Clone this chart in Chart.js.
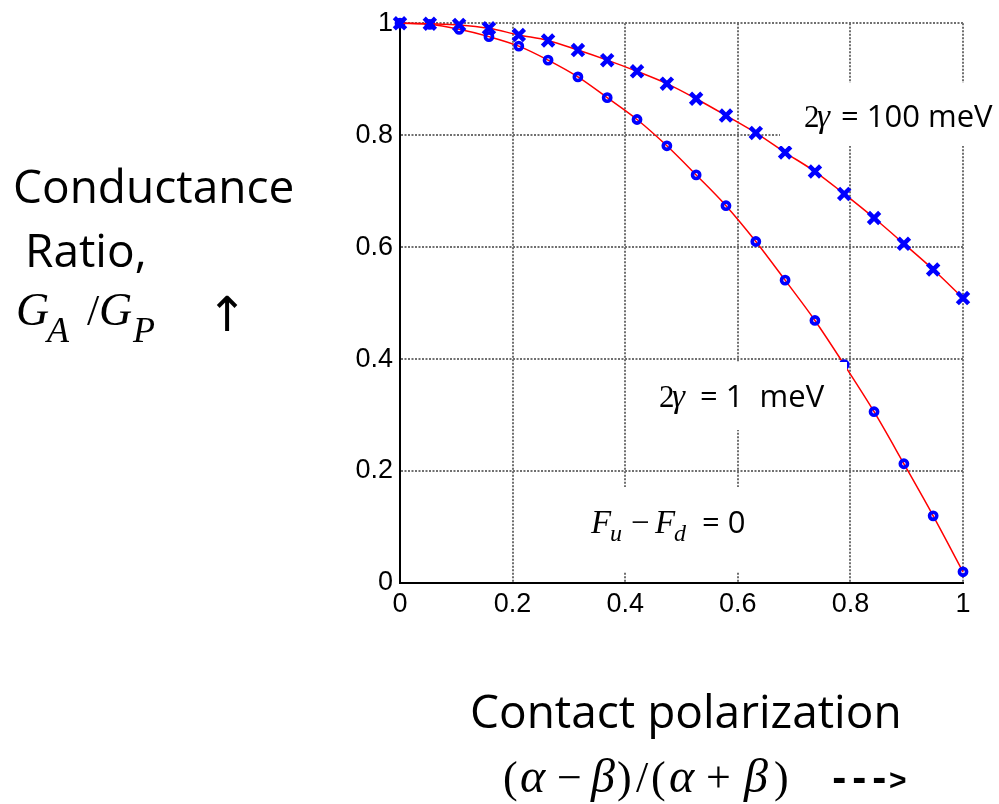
<!DOCTYPE html>
<html>
<head>
<meta charset="utf-8">
<title>Conductance ratio vs contact polarization</title>
<script src="https://cdn.jsdelivr.net/npm/chart.js@4/dist/chart.umd.min.js"></script>
<style>
  html, body { margin: 0; padding: 0; background: #fff; }
  #wrap { position: relative; width: 999px; height: 804px; }
</style>
</head>
<body>
<div id="wrap"><canvas id="chart" width="999" height="804"></canvas></div>
<script>
// contact polarization (alpha - beta)/(alpha + beta)
const polarization = [0, 0.053, 0.105, 0.158, 0.211, 0.263, 0.316, 0.368, 0.421, 0.474,
    0.526, 0.579, 0.632, 0.684, 0.737, 0.789, 0.842, 0.895, 0.947, 1]
// G_A / G_P for 2gamma = 1 meV (circles)
const ratio1meV = [1.0, 0.998, 0.989, 0.976, 0.959, 0.934, 0.904, 0.867, 0.828, 0.781,
    0.729, 0.674, 0.610, 0.541, 0.469, 0.390, 0.306, 0.213, 0.120, 0.020]
// G_A / G_P for 2gamma = 100 meV (crosses)
const ratio100meV = [1.0, 0.999, 0.997, 0.991, 0.979, 0.969, 0.952, 0.934, 0.914, 0.892,
    0.865, 0.835, 0.804, 0.769, 0.735, 0.695, 0.652, 0.606, 0.560, 0.509]
const xTicks = [0, 0.2, 0.4, 0.6, 0.8, 1]
const yTicks = [0, 0.2, 0.4, 0.6, 0.8, 1]

const sans = '"Open Sans", "DejaVu Sans", sans-serif'
const serif = '"Liberation Serif", "DejaVu Serif", serif'

const toPoints = (ys) => polarization.map((x, i) => ({ x: x, y: ys[i] }))

const drawRuns = (ctx, runs) => {
    runs.forEach(r => {
        ctx.font = r.f
        ctx.fillText(r.t, r.x, r.y)
    })
}

// white label boxes and the text inside the plot
const annotations = {
    id: 'annotations',
    afterDatasetsDraw(chart) {
        const ctx = chart.ctx
        ctx.save()
        ctx.fillStyle = '#fff'
        ctx.fillRect(780, 83, 219, 63)
        ctx.fillRect(640, 362, 207, 68)
        ctx.fillRect(575, 487, 185, 85)
        ctx.fillStyle = '#000'
        ctx.textAlign = 'left'
        ctx.textBaseline = 'alphabetic'
        drawRuns(ctx, [
            { t: '2', x: 804, y: 127, f: `31px ${serif}` },
            { t: 'γ', x: 817, y: 127, f: `italic 33px ${serif}` },
            { t: '= 100 meV', x: 841, y: 127, f: `31px ${sans}` },

            { t: '2', x: 659, y: 407, f: `31px ${serif}` },
            { t: 'γ', x: 672, y: 407, f: `italic 33px ${serif}` },
            { t: '= 1  meV', x: 700, y: 407, f: `31px ${sans}` },

            { t: 'F', x: 591, y: 533, f: `italic 33px ${serif}` },
            { t: 'u', x: 610, y: 541, f: `italic 24px ${serif}` },
            { t: '−', x: 631, y: 533, f: `33px ${serif}` },
            { t: 'F', x: 655, y: 533, f: `italic 33px ${serif}` },
            { t: 'd', x: 674, y: 541, f: `italic 24px ${serif}` },
            { t: '= 0', x: 702, y: 533, f: `31px ${sans}` }
        ])
        ctx.restore()
    },
    afterDraw(chart) {
        const ctx = chart.ctx
        ctx.save()
        ctx.fillStyle = '#000'
        ctx.textAlign = 'left'
        ctx.textBaseline = 'alphabetic'
        drawRuns(ctx, [
            { t: 'Conductance', x: 13, y: 203, f: `46px ${sans}` },
            { t: 'Ratio,', x: 25, y: 267, f: `46px ${sans}` },
            { t: 'G', x: 16, y: 325, f: `italic 46px ${serif}` },
            { t: 'A', x: 47, y: 342, f: `italic 36px ${serif}` },
            { t: '/', x: 87, y: 325, f: `44px ${serif}` },
            { t: 'G', x: 99, y: 325, f: `italic 46px ${serif}` },
            { t: 'P', x: 133, y: 342, f: `italic 36px ${serif}` },
            { t: '↑', x: 207, y: 331, f: `48px "DejaVu Sans", sans-serif` },

            { t: 'Contact polarization', x: 470, y: 728, f: `46px ${sans}` },
            { t: '(', x: 503, y: 792, f: `44px ${serif}` },
            { t: 'α', x: 520, y: 792, f: `italic 48px ${serif}` },
            { t: '−', x: 557, y: 792, f: `44px ${serif}` },
            { t: 'β', x: 591, y: 792, f: `italic 48px ${serif}` },
            { t: ')', x: 617, y: 792, f: `44px ${serif}` },
            { t: '/', x: 636, y: 792, f: `44px ${serif}` },
            { t: '(', x: 651, y: 792, f: `44px ${serif}` },
            { t: 'α', x: 669, y: 792, f: `italic 48px ${serif}` },
            { t: '+', x: 706, y: 792, f: `44px ${serif}` },
            { t: 'β', x: 744, y: 792, f: `italic 48px ${serif}` },
            { t: ')', x: 774, y: 792, f: `44px ${serif}` },
            { t: '-', x: 832, y: 791, f: `bold 35px "DejaVu Sans", sans-serif` },
            { t: '-', x: 852, y: 791, f: `bold 35px "DejaVu Sans", sans-serif` },
            { t: '-', x: 872, y: 791, f: `bold 35px "DejaVu Sans", sans-serif` },
            { t: '>', x: 889, y: 790, f: `bold 30px "Liberation Sans", sans-serif` }
        ])
        ctx.restore()
    }
}

const gridOpts = {
    color: '#6f6f6f',
    lineWidth: 2,
    drawTicks: false
}
const borderOpts = {
    display: true,
    color: '#000',
    width: 2,
    dash: [2, 1.5]
}
const tickFont = { family: '"Liberation Sans", Arial, sans-serif', size: 27 }
const tickLabel = (value) => String(+Number(value).toFixed(1))

new Chart(document.getElementById('chart'), {
    type: 'scatter',
    data: {
        datasets: [
            {
                label: '2γ = 100 meV',
                data: toPoints(ratio100meV),
                showLine: true,
                borderColor: '#ff0000',
                borderWidth: 1.5,
                cubicInterpolationMode: 'monotone',
                pointStyle: 'crossRot',
                pointRadius: 8,
                pointBorderWidth: 4.5,
                pointBorderColor: '#0000ff',
                pointBackgroundColor: '#0000ff',
                clip: false
            },
            {
                label: '2γ = 1 meV',
                data: toPoints(ratio1meV),
                showLine: true,
                borderColor: '#ff0000',
                borderWidth: 1.5,
                cubicInterpolationMode: 'monotone',
                pointStyle: 'circle',
                pointRadius: 3.6,
                pointBorderWidth: 3.6,
                pointBorderColor: '#0000ff',
                pointBackgroundColor: 'rgba(0,0,0,0)',
                clip: false
            }
        ]
    },
    options: {
        responsive: false,
        animation: false,
        devicePixelRatio: 1,
        layout: { padding: { top: 19, right: 36, left: 0, bottom: 0 } },
        plugins: {
            legend: { display: false },
            tooltip: { enabled: false }
        },
        scales: {
            x: {
                type: 'linear',
                min: 0,
                max: 1,
                grid: gridOpts,
                border: borderOpts,
                afterBuildTicks: (scale) => { scale.ticks = xTicks.map(v => ({ value: v })) },
                afterFit: (scale) => { scale.height = 221 },
                ticks: { color: '#000', font: tickFont, padding: 5, maxRotation: 0, callback: tickLabel }
            },
            y: {
                type: 'linear',
                min: 0,
                max: 1,
                grid: gridOpts,
                border: borderOpts,
                afterBuildTicks: (scale) => { scale.ticks = yTicks.map(v => ({ value: v })) },
                afterFit: (scale) => { scale.width = 400 },
                ticks: { color: '#000', font: tickFont, padding: 7, callback: tickLabel }
            }
        }
    },
    plugins: [annotations]
})
</script>
</body>
</html>
